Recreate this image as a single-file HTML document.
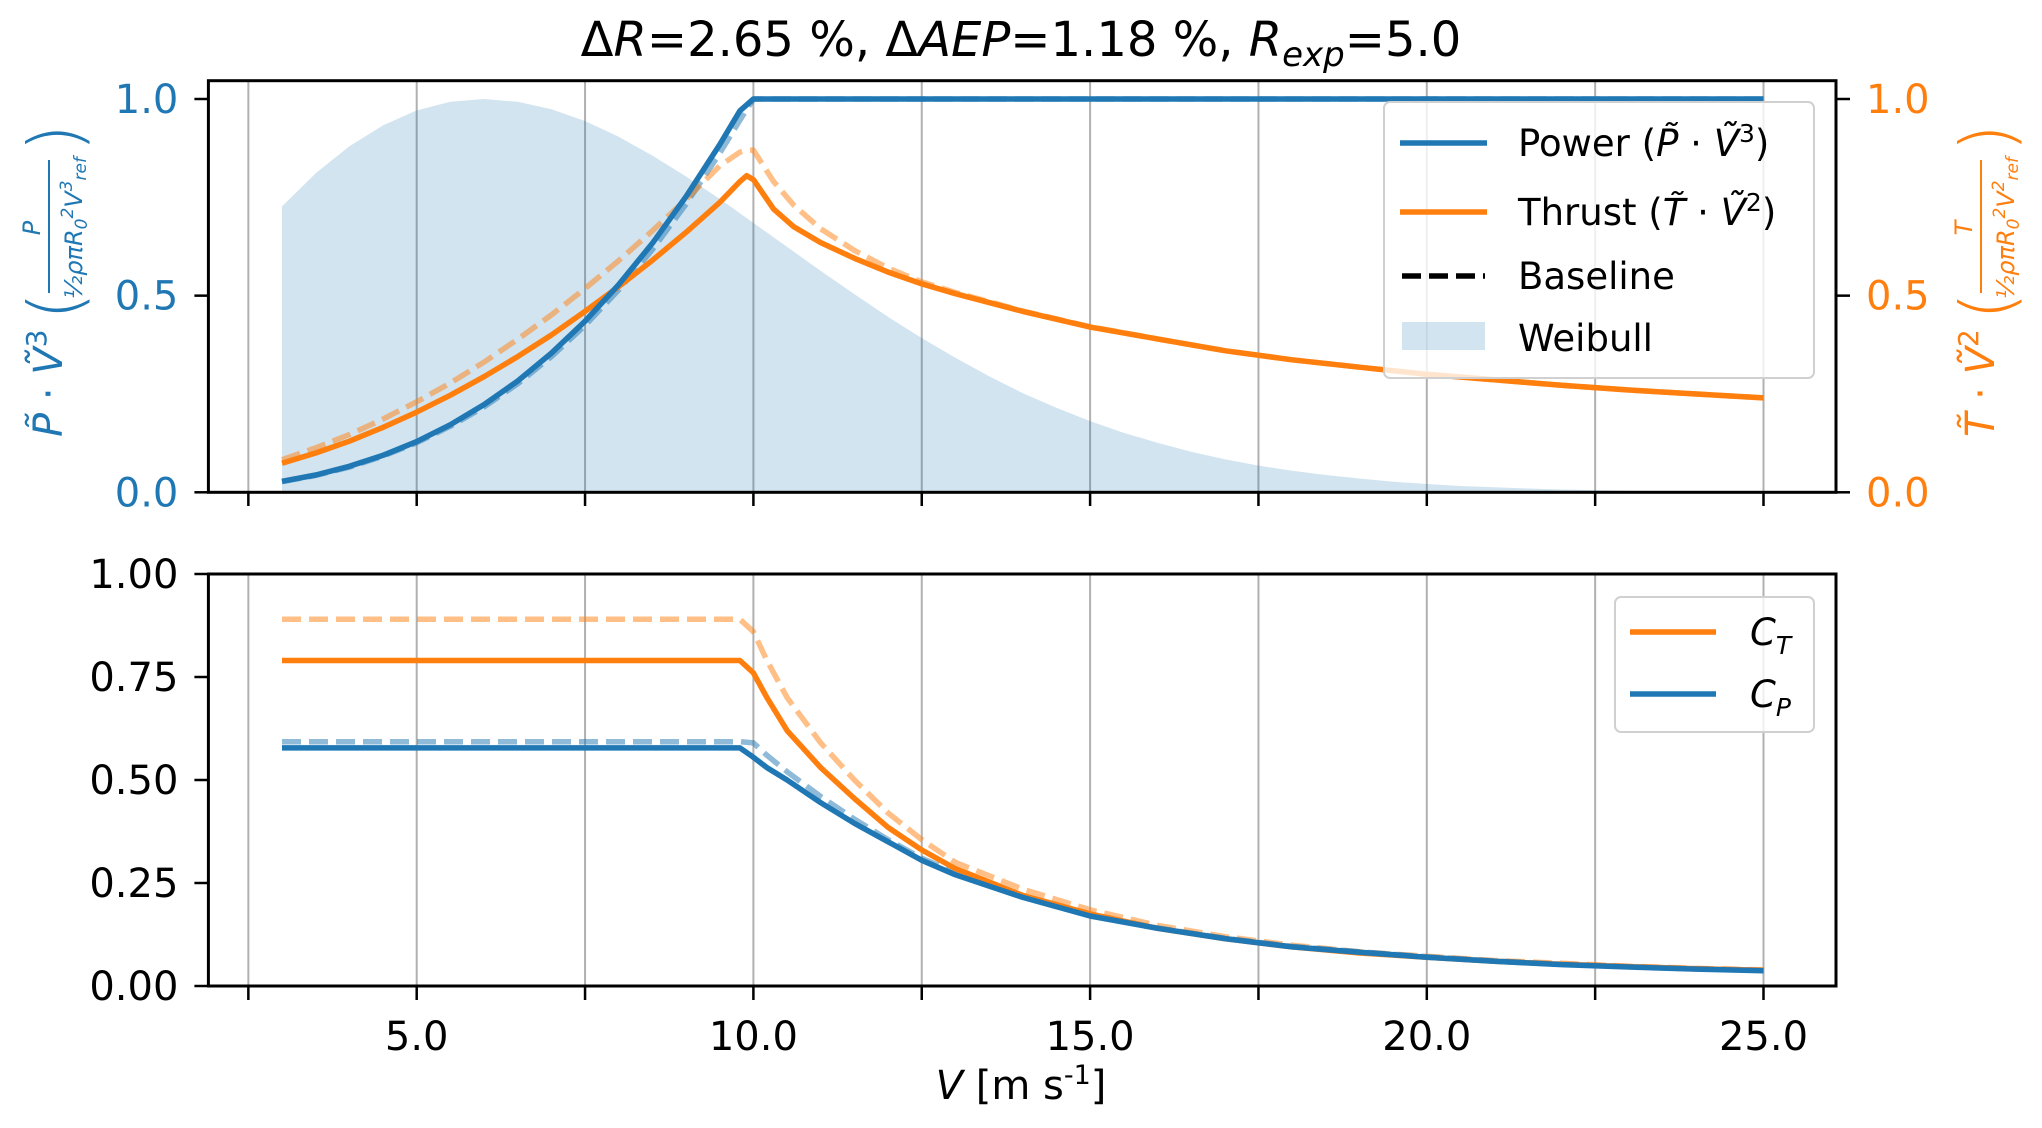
<!DOCTYPE html>
<html><head><meta charset="utf-8"><style>
body{margin:0;background:#fff;}
svg{display:block;font-family:"DejaVu Sans","Liberation Sans",sans-serif;}
</style></head><body>
<svg id="chart" width="2042" height="1128" viewBox="0 0 2042 1128" xmlns="http://www.w3.org/2000/svg">
<text x="1021" y="56" font-size="48" text-anchor="middle">Δ<tspan font-style="italic">R</tspan>=2.65 %, Δ<tspan font-style="italic">AEP</tspan>=1.18 %, <tspan font-style="italic">R</tspan><tspan font-style="italic" font-size="34" dy="10">exp</tspan><tspan dy="-10">=5.0</tspan></text>
<g id="topPanel"></g>
<g id="botPanel"></g>
</svg>
<script>
// ---- data ----
const weibullV = [3,3.5,4,4.5,5,5.5,6,6.5,7,7.5,8,8.5,9,9.5,10,10.5,11,11.5,12,12.5,13,13.5,14,14.5,15,15.5,16,16.5,17,17.5,18,18.5,19,19.5,20,20.5,21,21.5,22,22.5,23,24,25];
const weibullP = [0.727,0.811,0.880,0.933,0.971,0.993,1.0,0.993,0.974,0.944,0.904,0.856,0.803,0.746,0.685,0.624,0.563,0.504,0.446,0.392,0.342,0.295,0.252,0.215,0.181,0.151,0.126,0.103,0.084,0.068,0.055,0.044,0.035,0.027,0.021,0.016,0.013,0.0096,0.007,0.0055,0.004,0.002,0.001];

const powerV = [3,3.5,4,4.5,5,5.5,6,6.5,7,7.5,8,8.5,9,9.5,9.8,10,25];
const powerNew = [0.028,0.044,0.066,0.094,0.129,0.172,0.223,0.283,0.354,0.435,0.528,0.633,0.752,0.884,0.97,1.0,1.0];
const powerBase = [0.027,0.043,0.064,0.092,0.126,0.168,0.217,0.276,0.345,0.424,0.515,0.617,0.733,0.862,0.946,1.0,1.0];

const thrustV = [3,3.5,4,4.5,5,5.5,6,6.5,7,7.5,8,8.5,9,9.5,9.8,9.9,10,10.3,10.6,11,11.5,12,12.5,13,14,15,16,17,18,19,20,21,22,23,24,25];
const thrustNew = [0.074,0.10,0.13,0.165,0.204,0.247,0.294,0.345,0.40,0.46,0.523,0.59,0.661,0.737,0.79,0.805,0.795,0.72,0.675,0.635,0.595,0.56,0.53,0.505,0.46,0.42,0.39,0.36,0.337,0.318,0.30,0.286,0.272,0.26,0.25,0.24];
const thrustBase = [0.083,0.113,0.147,0.186,0.23,0.278,0.331,0.389,0.451,0.518,0.589,0.665,0.745,0.83,0.865,0.87,0.87,0.79,0.73,0.67,0.615,0.57,0.535,0.508,0.461,0.421,0.39,0.36,0.337,0.318,0.30,0.286,0.272,0.26,0.25,0.24];

const coefV = [3,9.8,10,10.2,10.5,11,11.5,12,12.5,13,14,15,16,17,18,19,20,21,22,23,24,25];
const ctNew = [0.79,0.79,0.76,0.70,0.62,0.53,0.455,0.385,0.33,0.285,0.22,0.175,0.14,0.115,0.095,0.08,0.07,0.06,0.053,0.047,0.042,0.038];
const ctBase = [0.89,0.89,0.86,0.79,0.70,0.59,0.50,0.42,0.355,0.30,0.235,0.185,0.147,0.12,0.099,0.083,0.072,0.062,0.055,0.048,0.043,0.039];
const cpNew = [0.578,0.578,0.555,0.53,0.50,0.445,0.395,0.35,0.305,0.27,0.215,0.17,0.14,0.115,0.095,0.082,0.07,0.06,0.052,0.046,0.041,0.037];
const cpBase = [0.593,0.593,0.59,0.56,0.52,0.46,0.405,0.355,0.31,0.275,0.218,0.172,0.141,0.116,0.096,0.083,0.071,0.061,0.053,0.047,0.042,0.038];

const xGrid = [2.5,5,7.5,10,12.5,15,17.5,20,22.5,25];
const xLabels = ["5.0","10.0","15.0","20.0","25.0"];
const xLabelVals = [5,10,15,20,25];
const topTicks = [0,0.5,1.0];
const topTickLabels = ["0.0","0.5","1.0"];
const botTicks = [0,0.25,0.5,0.75,1.0];
const botTickLabels = ["0.00","0.25","0.50","0.75","1.00"];

// ---- layout ----
const NS="http://www.w3.org/2000/svg";
const L=208.4, R=1836;
const FS=40, LW=5.5;
const X=v=>416.7+(v-5)*67.34;
const yTop=v=>492.3-v*(492.3-99);
const yBot=v=>986-v*(986-574);
const BLUE="#1f77b4", ORANGE="#ff7f0e";
function mk(parent,tag,attrs,text){const e=document.createElementNS(NS,tag);for(const k in attrs)e.setAttribute(k,attrs[k]);if(text!==undefined)e.textContent=text;parent.appendChild(e);return e;}
const topG=document.getElementById('topPanel'), botG=document.getElementById('botPanel');

function grid(g,y0,y1){
  xGrid.forEach(v=>{const l=mk(g,'line',{x1:X(v),x2:X(v),y1:y0,y2:y1,stroke:'#b0b0b0','stroke-width':2});
  
  });
}
function path(g,xs,ys,yf,color,op,dash,name){
  const d=xs.map((v,i)=>(i?'L':'M')+X(v).toFixed(1)+','+yf(ys[i]).toFixed(1)).join('');
  const p=mk(g,'path',{d:d,fill:'none',stroke:color,'stroke-width':LW,'stroke-opacity':op,'stroke-linejoin':'round'});
  if(dash)p.setAttribute('stroke-dasharray','19,8');
  
  
}
function frame(g,t,b,name){const r=mk(g,'rect',{x:L,y:t,width:R-L,height:b-t,fill:'none',stroke:'#000','stroke-width':3});
  
  }
function ylabel(g,cx,color,sym,pw,num,name){
  const grp=mk(g,'g',{transform:'translate('+cx+',290) rotate(-90)',fill:color});
  
  
  const m=mk(grp,'text',{x:-147,y:62,'font-size':40});
  m.innerHTML='<tspan font-style="italic">'+sym+'</tspan> · <tspan font-style="italic">Ṽ</tspan><tspan font-size="28" dy="-16">'+pw+'</tspan>';
  mk(grp,'text',{x:-30,y:80,'font-size':72,'font-weight':'100'},'(');
  mk(grp,'text',{x:62,y:40,'font-size':24,'font-style':'italic','text-anchor':'middle'},num);
  mk(grp,'line',{x1:-3,x2:130,y1:49,y2:49,stroke:color,'stroke-width':2});
  const den=mk(grp,'text',{x:62,y:82,'font-size':24,'text-anchor':'middle','font-style':'italic'});
  den.innerHTML='½ρπR<tspan font-size="17" dy="5">0</tspan><tspan font-size="17" dy="-14">2</tspan><tspan dy="9">V</tspan><tspan font-size="17" dy="-10">'+pw+'</tspan><tspan font-size="17" dy="14">ref</tspan>';
  mk(grp,'text',{x:138,y:80,'font-size':72,'font-weight':'100'},')');
}

// TOP PANEL
grid(topG,80.7,492.3);
{
  let d='M'+X(weibullV[0])+','+yTop(0);
  weibullV.forEach((v,i)=>{d+='L'+X(v).toFixed(1)+','+yTop(weibullP[i]).toFixed(1);});
  d+='L'+X(weibullV[weibullV.length-1])+','+yTop(0)+'Z';
  const h=mk(topG,'path',{d:d,fill:BLUE,'fill-opacity':0.2});
  
  
}
path(topG,powerV,powerBase,yTop,BLUE,0.5,true,'power-baseline-line');
path(topG,thrustV,thrustBase,yTop,ORANGE,0.5,true,'thrust-baseline-line');
path(topG,thrustV,thrustNew,yTop,ORANGE,1,false,'thrust-line');
path(topG,powerV,powerNew,yTop,BLUE,1,false,'power-line');
frame(topG,80.7,492.3,'top-axes-frame');
xGrid.forEach(v=>{const t=mk(topG,'line',{x1:X(v),x2:X(v),y1:492.3,y2:506,stroke:'#000','stroke-width':2.5});
  
  });
topTicks.forEach((v,i)=>{
  const y=yTop(v);
  mk(topG,'line',{x1:L-14,x2:L,y1:y,y2:y,stroke:'#000','stroke-width':2.5});
  mk(topG,'line',{x1:R,x2:R+14,y1:y,y2:y,stroke:'#000','stroke-width':2.5});
  const a=mk(topG,'text',{x:L-30,y:y+14,'font-size':FS,fill:BLUE,'text-anchor':'end'},topTickLabels[i]);
  
  
  const b=mk(topG,'text',{x:R+30,y:y+14,'font-size':FS,fill:ORANGE},topTickLabels[i]);
  
  
});
ylabel(topG,0,BLUE,'P̃','3','P','left-y-axis-title');
ylabel(topG,1932,ORANGE,'T̃','2','T','right-y-axis-title');
// top legend
{
  const lg=mk(topG,'g',{});
  
  
  mk(lg,'rect',{x:1384,y:102,width:430,height:276,rx:6,fill:'#fff','fill-opacity':0.8,stroke:'#d0d0d0','stroke-width':2});
  const items=[['Power (','P̃','·','Ṽ','3',')',BLUE,143],['Thrust (','T̃','·','Ṽ','2',')',ORANGE,212]];
  items.forEach(it=>{
    mk(lg,'line',{x1:1400,x2:1487,y1:it[7],y2:it[7],stroke:it[6],'stroke-width':LW});
    const t=mk(lg,'text',{x:1518,y:it[7]+13,'font-size':37});
    t.innerHTML=it[0]+'<tspan font-style="italic">'+it[1]+'</tspan> '+it[2]+' <tspan font-style="italic">'+it[3]+'</tspan><tspan font-size="25" dy="-14">'+it[4]+'</tspan><tspan dy="14">'+it[5]+'</tspan>';
    
    
  });
  mk(lg,'line',{x1:1402,x2:1485,y1:276,y2:276,stroke:'#000','stroke-width':LW,'stroke-dasharray':'19,8'});
  const b=mk(lg,'text',{x:1518,y:289,'font-size':37},'Baseline');
  
  
  mk(lg,'rect',{x:1402,y:322,width:83,height:28,fill:BLUE,'fill-opacity':0.2});
  const w=mk(lg,'text',{x:1518,y:351,'font-size':37},'Weibull');
  
  
}

// BOTTOM PANEL
grid(botG,574,986);
path(botG,coefV,ctBase,yBot,ORANGE,0.5,true,'ct-baseline-line');
path(botG,coefV,cpBase,yBot,BLUE,0.5,true,'cp-baseline-line');
path(botG,coefV,ctNew,yBot,ORANGE,1,false,'ct-line');
path(botG,coefV,cpNew,yBot,BLUE,1,false,'cp-line');
frame(botG,574,986,'bottom-axes-frame');
xGrid.forEach(v=>{const t=mk(botG,'line',{x1:X(v),x2:X(v),y1:986,y2:1000,stroke:'#000','stroke-width':2.5});
  
  });
xLabelVals.forEach((v,i)=>{const t=mk(botG,'text',{x:X(v),y:1050,'font-size':FS,'text-anchor':'middle'},xLabels[i]);
  
  });
botTicks.forEach((v,i)=>{
  const y=yBot(v);
  mk(botG,'line',{x1:L-14,x2:L,y1:y,y2:y,stroke:'#000','stroke-width':2.5});
  const t=mk(botG,'text',{x:L-30,y:y+14,'font-size':FS,'text-anchor':'end'},botTickLabels[i]);
  
  
});
{
  const xl=mk(botG,'text',{x:1021,y:1099,'font-size':40,'text-anchor':'middle'});
  xl.innerHTML='<tspan font-style="italic">V</tspan> [m s<tspan font-size="27" dy="-15">-1</tspan><tspan dy="15">]</tspan>';
  
  
  const lg=mk(botG,'g',{});
  
  
  mk(lg,'rect',{x:1615,y:597,width:199,height:135,rx:6,fill:'#fff','fill-opacity':0.8,stroke:'#d0d0d0','stroke-width':2});
  [['T',ORANGE,632],['P',BLUE,694]].forEach(it=>{
    mk(lg,'line',{x1:1630,x2:1716,y1:it[2],y2:it[2],stroke:it[1],'stroke-width':LW});
    const t=mk(lg,'text',{x:1750,y:it[2]+13,'font-size':37,'font-style':'italic'});
    t.innerHTML='C<tspan font-size="25" dy="9">'+it[0]+'</tspan>';
    
    
  });
}
</script>
</body></html>
